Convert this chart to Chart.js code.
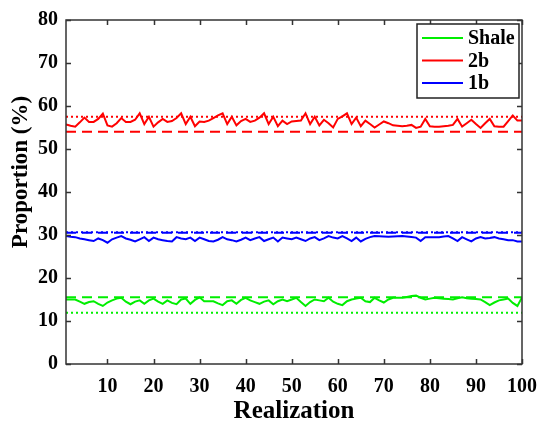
<!DOCTYPE html>
<html>
<head>
<meta charset="utf-8">
<script src="https://cdn.jsdelivr.net/npm/chart.js@4/dist/chart.umd.min.js"></script>
<style>
  html, body { margin: 0; padding: 0; background: #ffffff; }
  #wrap { width: 548px; height: 424px; }
</style>
</head>
<body>
<div id="wrap"><canvas id="c" width="548" height="424"></canvas></div>
<script>
// Realization index 1..100
const realizations = Array.from({ length: 100 }, (_, i) => i + 1);

// Facies proportions (%) per realization
const shale = [
  15.0, 15.0, 15.0, 14.5, 14.0, 14.4, 14.6, 14.0, 13.5, 14.3,
  14.8, 15.2, 15.4, 14.5, 13.9, 14.5, 14.8, 14.0, 14.8, 15.2,
  14.5, 14.0, 14.8, 14.2, 13.9, 15.0, 15.2, 14.0, 14.9, 15.5,
  14.6, 14.6, 14.6, 14.1, 13.7, 14.6, 14.8, 14.0, 14.9, 15.4,
  14.8, 14.4, 14.0, 14.5, 14.8, 13.9, 14.6, 15.0, 14.6, 15.0,
  15.4, 14.4, 13.5, 14.4, 15.0, 14.8, 14.6, 15.4, 14.5, 14.0,
  13.7, 14.6, 15.0, 15.2, 15.4, 14.6, 14.4, 15.4, 14.8, 14.3,
  15.0, 15.4, 15.4, 15.4, 15.6, 15.8, 15.9, 15.4, 15.0, 15.2,
  15.4, 15.3, 15.2, 15.1, 15.0, 15.3, 15.5, 15.3, 15.2, 15.1,
  15.0, 14.4, 13.7, 14.3, 14.8, 15.0, 15.2, 14.2, 13.5, 15.5
];
const facies2b = [
  55.7, 55.4, 55.2, 56.2, 57.3, 56.3, 56.3, 57.0, 58.2, 55.5,
  55.2, 56.0, 57.2, 56.3, 56.3, 56.8, 58.3, 55.8, 57.5, 55.2,
  56.2, 57.0, 56.3, 56.5, 57.2, 58.3, 55.8, 57.5, 55.3, 56.4,
  56.3, 56.6, 57.2, 57.8, 58.3, 55.8, 57.5, 55.5, 56.5, 57.0,
  56.3, 56.6, 57.3, 58.3, 55.8, 57.5, 55.3, 56.6, 55.8, 56.4,
  56.5, 56.6, 58.3, 55.8, 57.5, 55.5, 56.8, 56.0, 55.0, 57.0,
  57.6, 58.3, 55.8, 57.3, 55.3, 56.6, 55.8, 55.0, 55.7, 56.4,
  56.0, 55.5, 55.4, 55.3, 55.4, 55.6, 54.9, 55.2, 57.0, 55.3,
  55.2, 55.2, 55.3, 55.4, 55.6, 57.0, 55.2, 56.0, 56.8, 55.8,
  54.9, 56.0, 57.0, 55.3, 55.2, 55.2, 56.5, 57.8, 56.6, 56.6
];
const facies1b = [
  29.75, 29.6, 29.5, 29.2, 29.0, 28.8, 28.6, 29.2, 28.8, 28.2,
  29.0, 29.4, 29.75, 29.2, 28.9, 28.5, 29.0, 29.5, 28.6, 29.4,
  29.0, 28.8, 28.6, 28.5, 29.5, 29.2, 29.0, 29.4, 28.6, 29.4,
  29.0, 28.6, 28.5, 28.9, 29.5, 29.0, 28.8, 28.5, 28.9, 29.4,
  28.8, 29.2, 29.5, 28.6, 29.0, 29.4, 28.5, 29.4, 29.2, 29.0,
  29.4, 29.0, 28.6, 29.2, 29.5, 28.8, 29.2, 29.75, 29.4, 29.2,
  29.75, 29.2, 28.6, 29.4, 28.5, 29.1, 29.5, 29.75, 29.7, 29.65,
  29.6, 29.65, 29.7, 29.75, 29.65, 29.55, 29.4, 28.6, 29.5, 29.5,
  29.5, 29.5, 29.65, 29.75, 29.2, 28.6, 29.5, 29.0, 28.5, 29.2,
  29.5, 29.2, 29.3, 29.5, 29.2, 29.0, 28.8, 28.8, 28.5, 28.5
];

// Reference levels (%): dashed and dotted horizontal lines
const shaleDashed = 15.5, shaleDotted = 11.9;
const b2Dashed = 54.0, b2Dotted = 57.5;
const b1Dashed = 30.5, b1Dotted = 30.65;

// Axis ticks and labels
const xTicks = [10, 20, 30, 40, 50, 60, 70, 80, 90, 100];
const yTicks = [0, 10, 20, 30, 40, 50, 60, 70, 80];
const xTitle = 'Realization';
const yTitle = 'Proportion (%)';

const GREEN = '#00ee00', RED = '#ff0000', BLUE = '#0000ff';
const FONT = '"Liberation Serif", "Times New Roman", serif';

const series = (vals) => vals.map((v, i) => ({ x: realizations[i], y: v }));
const level = (v) => [{ x: realizations[0], y: v }, { x: realizations[realizations.length - 1], y: v }];

const solid = (label, vals, color) => ({
  label, data: series(vals), borderColor: color, borderWidth: 2,
  pointRadius: 0, fill: false, tension: 0
});
const ref = (label, v, color, dash) => ({
  label, data: level(v), borderColor: color, borderWidth: 2,
  borderDash: dash, pointRadius: 0, fill: false
});

// Frame with inward ticks on all four sides, the y title, and the boxed legend
const framePlugin = {
  id: 'frame',
  afterDraw(chart) {
    const { ctx, chartArea: a, scales } = chart;
    ctx.save();
    ctx.strokeStyle = '#333333';
    ctx.lineWidth = 1.5;
    ctx.strokeRect(a.left, a.top, a.right - a.left, a.bottom - a.top);
    const tl = 5;
    ctx.beginPath();
    xTicks.forEach(t => {
      const px = Math.round(scales.x.getPixelForValue(t)) + 0.5;
      ctx.moveTo(px, a.bottom); ctx.lineTo(px, a.bottom - tl);
      ctx.moveTo(px, a.top); ctx.lineTo(px, a.top + tl);
    });
    yTicks.forEach(t => {
      const py = Math.round(scales.y.getPixelForValue(t)) + 0.5;
      ctx.moveTo(a.left, py); ctx.lineTo(a.left + tl, py);
      ctx.moveTo(a.right, py); ctx.lineTo(a.right - tl, py);
    });
    ctx.stroke();

    // y axis title
    ctx.save();
    ctx.translate(21, 172);
    ctx.rotate(-Math.PI / 2);
    ctx.font = 'bold 23px ' + FONT;
    ctx.fillStyle = '#000000';
    ctx.textAlign = 'center';
    ctx.textBaseline = 'middle';
    ctx.fillText(yTitle, 0, 0);
    ctx.restore();

    // legend
    const bx = 417, by = 24, bw = 102, bh = 74;
    ctx.fillStyle = '#ffffff';
    ctx.fillRect(bx, by, bw, bh);
    ctx.strokeStyle = '#222222';
    ctx.lineWidth = 1.5;
    ctx.strokeRect(bx, by, bw, bh);
    const items = [['Shale', GREEN], ['2b', RED], ['1b', BLUE]];
    ctx.font = 'bold 20px ' + FONT;
    ctx.textBaseline = 'middle';
    ctx.textAlign = 'left';
    items.forEach(([txt, col], i) => {
      const y = by + 14 + i * 22.5;
      ctx.strokeStyle = col;
      ctx.lineWidth = 2;
      ctx.beginPath(); ctx.moveTo(422, y); ctx.lineTo(463, y); ctx.stroke();
      ctx.fillStyle = '#000000';
      ctx.fillText(txt, 468, y + 1);
    });
    ctx.restore();
  }
};

new Chart(document.getElementById('c'), {
  type: 'line',
  data: {
    datasets: [
      ref('Shale mean', shaleDashed, GREEN, [10, 6]),
      ref('Shale target', shaleDotted, GREEN, [2, 3]),
      ref('2b mean', b2Dashed, RED, [10, 6]),
      ref('2b target', b2Dotted, RED, [2, 3]),
      ref('1b mean', b1Dashed, BLUE, [10, 6]),
      ref('1b target', b1Dotted, BLUE, [2, 3]),
      solid('Shale', shale, GREEN),
      solid('2b', facies2b, RED),
      solid('1b', facies1b, BLUE)
    ]
  },
  options: {
    responsive: false,
    animation: false,
    devicePixelRatio: 1,
    layout: { padding: { top: 14, right: 17, left: 0, bottom: 0 } },
    plugins: { legend: { display: false }, tooltip: { enabled: false } },
    scales: {
      x: {
        type: 'linear', min: 1, max: 100,
        afterBuildTicks: (s) => { s.ticks = xTicks.map(v => ({ value: v })); },
        afterFit: (s) => { s.height = 60; },
        grid: { display: false, drawTicks: false },
        border: { display: false },
        ticks: { color: '#000', padding: 11, maxRotation: 0, font: { family: FONT, size: 20, weight: 'bold' } },
        title: { display: true, text: xTitle, color: '#000', padding: 0, font: { family: FONT, size: 25, weight: 'bold', lineHeight: 1 } }
      },
      y: {
        min: 0, max: 80,
        afterBuildTicks: (s) => { s.ticks = yTicks.map(v => ({ value: v })); },
        afterFit: (s) => { s.width = 66; },
        grid: { display: false, drawTicks: false },
        border: { display: false },
        ticks: { color: '#000', padding: 8, font: { family: FONT, size: 20, weight: 'bold' } },
        title: { display: false }
      }
    }
  },
  plugins: [framePlugin]
});
</script>
</body>
</html>
